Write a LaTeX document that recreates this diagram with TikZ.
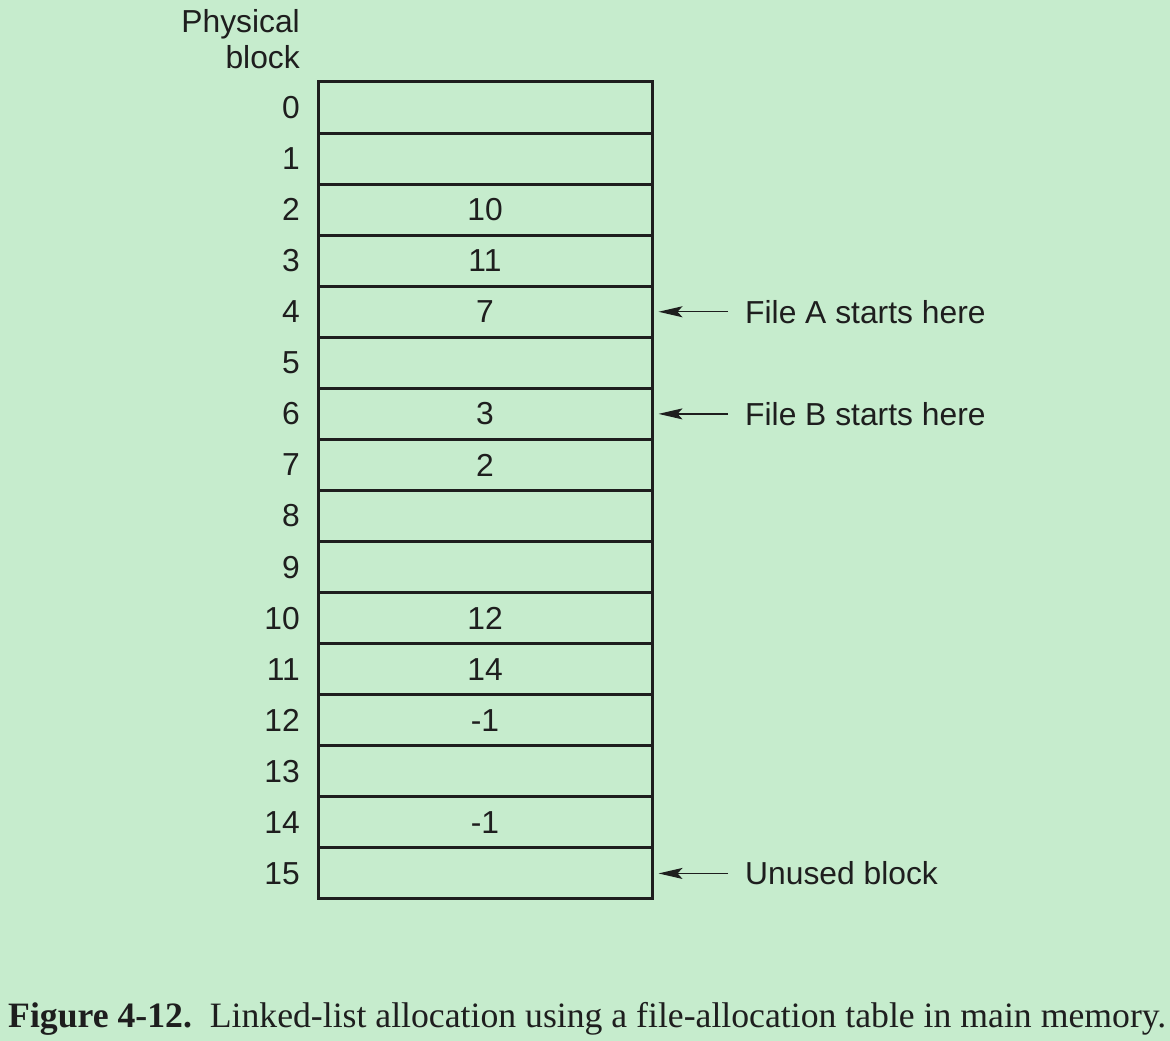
\documentclass[tikz,border=0pt]{standalone}
\usepackage{fontspec}
\setmainfont{Liberation Sans}
\newfontfamily\capfont{Liberation Serif}
\usetikzlibrary{arrows.meta}
\definecolor{bg}{RGB}{198,236,205}
\definecolor{ink}{RGB}{30,30,30}
\begin{document}
\begin{tikzpicture}[x=1pt,y=-1pt,
  lbl/.style={font=\fontsize{31.8}{34}\selectfont, text=ink, inner sep=0pt},
  cell/.style={draw=ink, line width=3pt, minimum width=334pt, minimum height=51.06pt, inner sep=0pt, font=\fontsize{31.8}{34}\selectfont, text=ink},
  ptr/.style={draw=ink, line width=1.3pt, -{Stealth[length=24pt,width=11pt,inset=5pt]}}]
\useasboundingbox (0,0) rectangle (1170,1041);
\fill[bg] (0,0) rectangle (1170,1041);
\foreach \i/\v in {0/,1/,2/10,3/11,4/7,5/,6/3,7/2,8/,9/,10/12,11/14,12/-1,13/,14/-1,15/} {
  \node[cell] (r\i) at (485, {82+51.06*(\i+0.5)}) {\v};
  \node[lbl, anchor=east] (n\i) at (300, {82+51.06*(\i+0.5)}) {\i};
}
\node[lbl, anchor=base east] (hd1) at (300,33) {Physical};
\node[lbl, anchor=base east] (hd2) at (300,69) {block};
\node[lbl, anchor=west] (fa) at (745, {82+51.06*4.5}) {File A starts here};
\node[lbl, anchor=west] (fb) at (745, {82+51.06*6.5}) {File B starts here};
\node[lbl, anchor=west] (ub) at (745, {82+51.06*15.5}) {Unused block};
\coordinate (ta) at (728, {82+51.06*4.5});
\coordinate (tb) at (728, {82+51.06*6.5});
\coordinate (tu) at (728, {82+51.06*15.5});
\draw[ptr] (ta) -- ([xshift=5pt]r4.east);
\draw[ptr] (tb) -- ([xshift=5pt]r6.east);
\draw[ptr] (tu) -- ([xshift=5pt]r15.east);
\node[anchor=base west, inner sep=0pt, text=ink, font=\capfont\fontsize{35.7}{38}\selectfont] (cap) at (8,1027) {\textbf{Figure 4-12.}\ \ Linked-list allocation using a file-allocation table in main memory.};
\end{tikzpicture}
\end{document}
